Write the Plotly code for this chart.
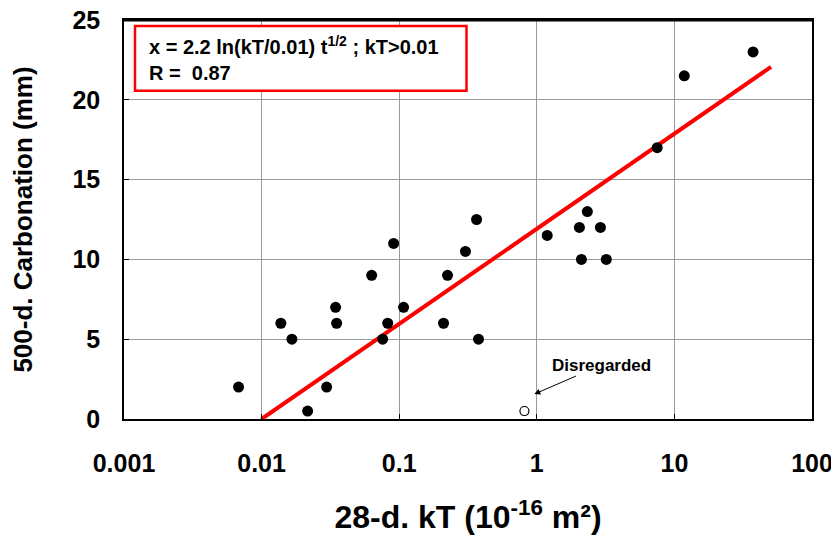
import plotly.graph_objects as go

# Data
kt_values = [0.0068, 0.0138, 0.0166, 0.0216, 0.0297, 0.0345, 0.0351, 0.0631, 0.0758,
             0.0825, 0.0911, 0.1076, 0.210, 0.2245, 0.303, 0.365, 0.377, 1.19, 2.04,
             2.33, 2.90, 2.11, 3.20, 7.50, 11.8, 37.3]
carb_values = [2, 6, 5, 0.5, 2, 7, 6, 9, 5,
               6, 11, 7, 6, 9, 10.5, 12.5, 5, 11.5, 12,
               13, 12, 10, 10, 17, 21.5, 23]
disregarded_kt = [0.813]
disregarded_carb = [0.5]
fit_kt = [0.01, 50.4]
fit_carb = [0, 22.06]

x_tickvals = [0.001, 0.01, 0.1, 1, 10, 100]
x_ticktext = ["0.001", "0.01", "0.1", "1", "10", "100"]
y_tickvals = [0, 5, 10, 15, 20, 25]

FONT = "Liberation Sans, Arial, sans-serif"

fig = go.Figure()
fig.add_trace(go.Scatter(x=fit_kt, y=fit_carb, mode="lines",
                         line=dict(color="#ff0000", width=4), showlegend=False))
fig.add_trace(go.Scatter(x=kt_values, y=carb_values, mode="markers",
                         marker=dict(color="black", size=11), showlegend=False))
fig.add_trace(go.Scatter(x=disregarded_kt, y=disregarded_carb, mode="markers",
                         marker=dict(color="white", size=9, line=dict(color="black", width=1.2)),
                         showlegend=False))

fig.update_layout(
    width=839, height=538,
    margin=dict(l=116, r=35, t=12, b=127),
    paper_bgcolor="white", plot_bgcolor="white",
    font=dict(family=FONT, color="black"),
    modebar=dict(bgcolor="rgba(0,0,0,0)", color="rgba(0,0,0,0)", activecolor="rgba(0,0,0,0)"),
    xaxis=dict(
        type="log", range=[-3, 2], automargin=False,
        tickvals=x_tickvals, ticktext=x_ticktext, ticklabeloverflow="allow",
        tickfont=dict(size=25, family=FONT, weight="bold"),
        ticks="inside", ticklen=5, tickcolor="black",
        showgrid=True, gridcolor="#9a9a9a", gridwidth=1,
        showline=True, linecolor="black", linewidth=1.5, mirror=True,
        zeroline=False, ticklabelstandoff=21,
        title=dict(text="28-d. kT (10<sup>-16</sup> m²)",
                   font=dict(size=32, family=FONT, weight="bold"), standoff=30),
    ),
    yaxis=dict(
        range=[0, 25], tickvals=y_tickvals, automargin=False, ticklabeloverflow="allow",
        tickfont=dict(size=25, family=FONT, weight="bold"),
        ticks="inside", ticklen=5, tickcolor="black",
        showgrid=True, gridcolor="#9a9a9a", gridwidth=1,
        showline=True, linecolor="black", linewidth=1.5, mirror=True,
        zeroline=False, ticklabelstandoff=17,
        title=dict(text="500-d. Carbonation (mm)",
                   font=dict(size=26, family=FONT, weight="bold"), standoff=34),
    ),
    shapes=[
        dict(type="line", xref="paper", yref="paper", x0=0, x1=1, y0=0.999, y1=0.999,
             line=dict(color="black", width=2), layer="above"),
        dict(type="rect", xref="paper", yref="paper",
             x0=(134 - 123) / 689, x1=(466 - 123) / 689,
             y0=(419 - 90) / 400, y1=(419 - 25) / 400,
             line=dict(color="#ff0000", width=2.5), fillcolor="white", layer="above"),
    ],
    annotations=[
        dict(xref="paper", yref="paper", x=(146 - 123) / 689, y=(419 - 58) / 400,
             xanchor="left", yanchor="middle", align="left", showarrow=False,
             text="x = 2.2 ln(kT/0.01) t<sup>1/2</sup> ; kT>0.01<br>R =  0.87",
             font=dict(size=20, family=FONT, weight="bold", color="black")),
        dict(x=-0.018, y=1.56, xref="x", yref="y",
             text="Disregarded", showarrow=True, arrowhead=2, arrowsize=1.2,
             arrowwidth=1, arrowcolor="black", ax=67, ay=-29,
             font=dict(size=17, family=FONT, weight="bold", color="black")),
    ],
)

fig.write_html("out.html")
